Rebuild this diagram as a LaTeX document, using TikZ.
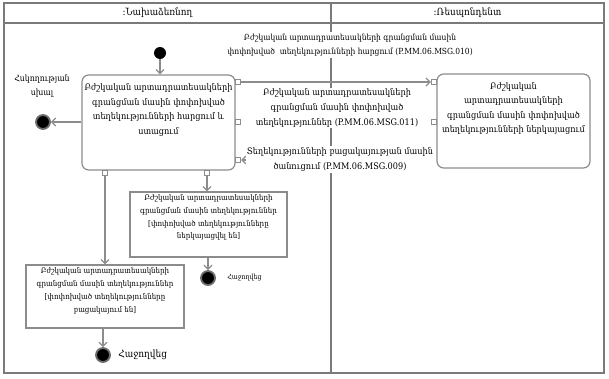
\documentclass[tikz,border=0pt]{standalone}
\usepackage{fontspec}
\setmainfont{DejaVu Serif}[FakeStretch=0.9]
\usetikzlibrary{arrows.meta,positioning}
\definecolor{lanegray}{HTML}{7A7A7A}
\definecolor{boxgray}{HTML}{8C8C8C}
\definecolor{ringgray}{HTML}{6E6E6E}

\begin{document}
\begin{tikzpicture}[x=0.75pt,y=-0.75pt,
  lane/.style={draw=lanegray,line width=1pt},
  action/.style={draw=boxgray,line width=0.9pt,rounded corners=5pt,fill=white,inner sep=0pt,
    font=\fontsize{6.8}{10.9}\selectfont},
  objbox/.style={draw=boxgray,line width=0.9pt,fill=white,inner sep=0pt,
    font=\fontsize{5.9}{9.6}\selectfont},
  pinbox/.style={draw=boxgray,line width=0.6pt,fill=white,minimum size=4.2pt,inner sep=0pt},
  flow/.style={draw=boxgray,line width=0.9pt,-{Straight Barb[length=3pt,width=6pt]}},
  msg/.style={fill=white,inner sep=1pt,align=center,font=\fontsize{6.8}{11}\selectfont},
  startnode/.style={circle,fill=black,minimum size=9pt,inner sep=0pt},
  endnode/.style={circle,fill=black,draw=ringgray,line width=1.4pt,minimum size=10.5pt,inner sep=0pt}]
\useasboundingbox (0,0) rectangle (609,378);

% swimlanes
\draw[lane] (4,3) rectangle (604,373);
\draw[lane] (4,23) -- (604,23);
\draw[lane] (331,3) -- (331,373);
\node[font=\fontsize{7.4}{9}\selectfont] (laneinit) at (157.5,13) {:Նախաձեռնող};
\node[font=\fontsize{7.4}{9}\selectfont] (laneresp) at (467.5,13) {:Ռեսպոնդենտ};

% actions
\node[action,minimum width=114.75pt,minimum height=71.25pt] (req) at (158.5,122.5)
  {\parbox[c][58pt][t]{114pt}{\centering
   Բժշկական արտադրատեսակների\\ գրանցման մասին փոփոխված\\ տեղեկությունների հարցում և\\ ստացում}};
\node[action,minimum width=114.75pt,minimum height=70.5pt] (resp) at (513.5,121)
  {\parbox[c][58pt][t]{114pt}{\centering
   Բժշկական\\ արտադրատեսակների\\ գրանցման մասին փոփոխված\\ տեղեկությունների ներկայացում}};

% pins
\node[pinbox] (reqout) at (238,82) {};
\node[pinbox] (reqmid) at (238,122) {};
\node[pinbox] (reqin) at (238,160) {};
\node[pinbox] (reqoutA) at (105,173) {};
\node[pinbox] (reqoutB) at (207,173) {};
\node[pinbox] (respin) at (434,82) {};
\node[pinbox] (respout) at (434,122) {};

% objects
\node[objbox,minimum width=117.75pt,minimum height=48.75pt] (infogiven) at (208.5,224.5)
  {\parbox[c][45pt][t]{116pt}{\centering
   Բժշկական արտադրատեսակների\\ գրանցման մասին տեղեկություններ\\{}[փոփոխված տեղեկությունները\\ ներկայացվել են]}};
\node[objbox,minimum width=118.5pt,minimum height=47.25pt] (infoabsent) at (105,296.5)
  {\parbox[c][43pt][t]{116pt}{\centering
   Բժշկական արտադրատեսակների\\ գրանցման մասին տեղեկություններ\\{}[փոփոխված տեղեկությունները\\ բացակայում են]}};

% start / end
\node[startnode] (start) at (160,53) {};
\node[endnode] (err) at (43,122) {};
\node[endnode] (okB) at (208,278) {};
\node[endnode] (okA) at (103,355) {};
\node[font=\fontsize{6.5}{11}\selectfont,align=center] (errlbl) at (42,86) {Հսկողության\\ սխալ};
\node[font=\fontsize{5.3}{6}\selectfont,right=5pt of okB] (okBlbl) {Հաջողվեց};
\node[font=\fontsize{7.5}{9}\selectfont,right=2pt of okA] (okAlbl) {Հաջողվեց};

% flows
\coordinate (msgnine) at (254,160);
\draw[flow] (start) -- (start |- req.north);
\draw[flow] (req.west |- err) -- (err);
\draw[flow] (reqout) -- (respin);
\draw[flow] (msgnine) -- (reqin);
\draw[flow] (reqoutA) -- (infoabsent);
\draw[flow] (reqoutB) -- (reqoutB |- infogiven.north);
\draw[flow] (infogiven.south -| okB) -- (okB);
\draw[flow] (infoabsent.south -| okA) -- (okA);

% messages
\node[msg,font=\fontsize{6.3}{10.5}\selectfont] (msgten) at (350,45) {Բժշկական արտադրատեսակների գրանցման մասին\\ փոփոխված\ \ տեղեկությունների հարցում (P.MM.06.MSG.010)};
\node[msg] (msgeleven) at (337,108) {Բժշկական արտադրատեսակների\\ գրանցման մասին փոփոխված\\ տեղեկություններ (P.MM.06.MSG.011)};
\node[msg] (msgninelbl) at (340,159.5) {Տեղեկությունների բացակայության մասին\\ ծանուցում (P.MM.06.MSG.009)};
\end{tikzpicture}
\end{document}
